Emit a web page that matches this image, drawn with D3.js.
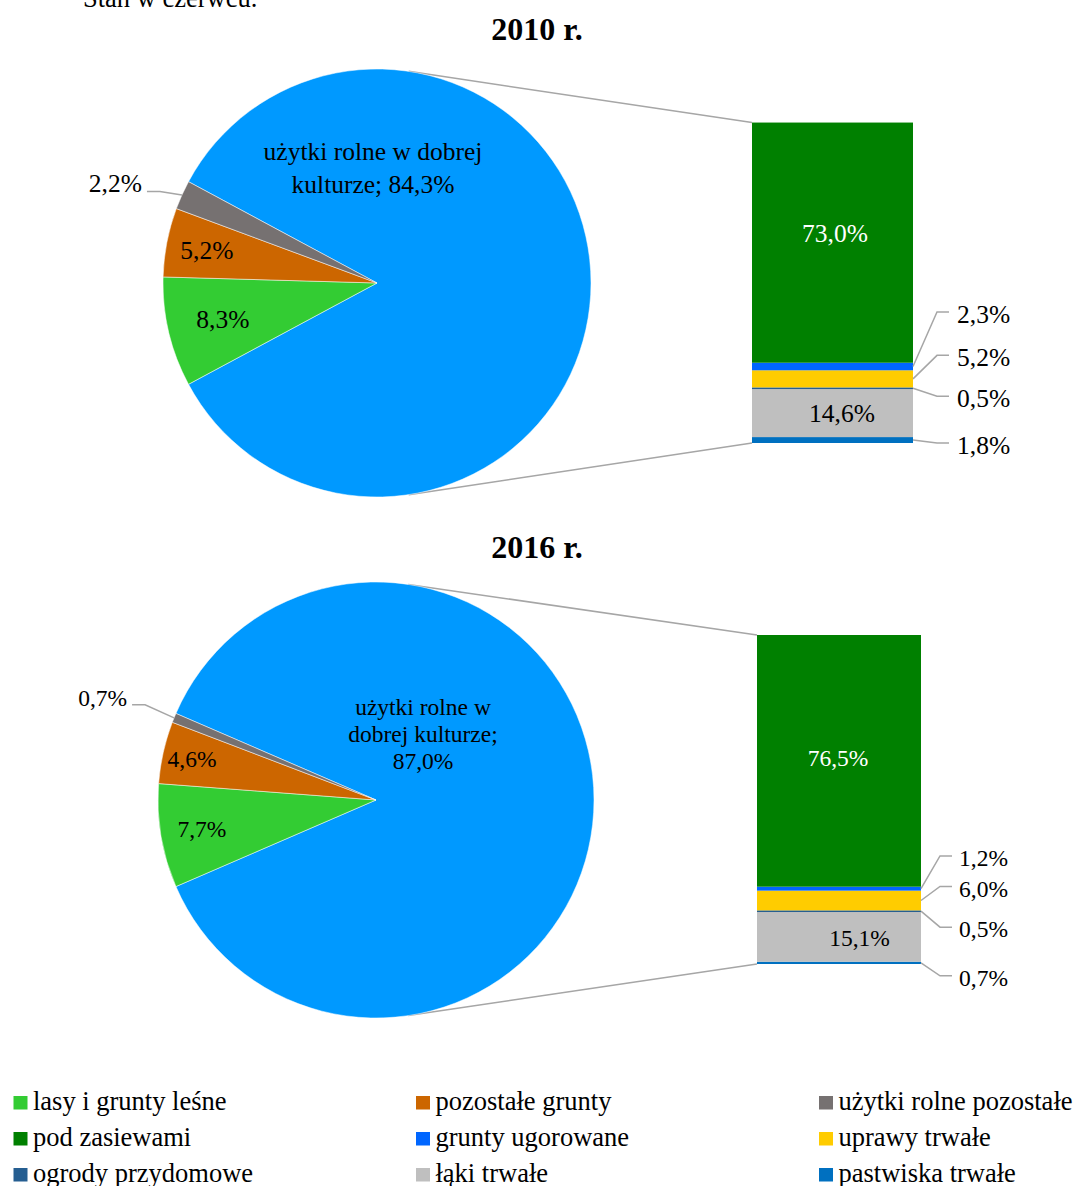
<html>
<head>
  <meta charset="utf-8">
  <script src="https://cdn.jsdelivr.net/npm/d3@7"></script>
  <style>
      body { margin: 0; background: #fff; }
      text { font-family: "Liberation Serif", "Times New Roman", serif; fill: #000; }
  </style>
</head>
<body>
<svg width="1073" height="1186" id="chart"></svg>
<script>
  // dane
  var years = ["2010 r.", "2016 r."];
  var pieCats = ["użytki rolne w dobrej kulturze", "lasy i grunty leśne", "pozostałe grunty", "użytki rolne pozostałe"];
  var pie2010 = [84.3, 8.3, 5.2, 2.2];
  var pie2016 = [87.0, 7.7, 4.6, 0.7];
  // od dołu słupka do góry
  var barCats = ["pastwiska trwałe", "łąki trwałe", "ogrody przydomowe", "uprawy trwałe", "grunty ugorowane", "pod zasiewami"];
  var bar2010 = [1.8, 14.6, 0.5, 5.2, 2.3, 73.0];
  var bar2016 = [0.7, 15.1, 0.5, 6.0, 1.2, 76.5];
  var legendCats = ["lasy i grunty leśne", "pozostałe grunty", "użytki rolne pozostałe",
                    "pod zasiewami", "grunty ugorowane", "uprawy trwałe",
                    "ogrody przydomowe", "łąki trwałe", "pastwiska trwałe"];

  var color = d3.scaleOrdinal()
    .domain(["użytki rolne w dobrej kulturze", "lasy i grunty leśne", "pozostałe grunty", "użytki rolne pozostałe",
             "pod zasiewami", "grunty ugorowane", "uprawy trwałe", "ogrody przydomowe", "łąki trwałe", "pastwiska trwałe"])
    .range(["#0099FF", "#33CC33", "#CC6600", "#767171", "#008000", "#0066FF", "#FFCC00", "#255E91", "#BFBFBF", "#0070C0"]);

  var fmt = function(v) { return v.toFixed(1).replace(".", ",") + "%"; };

  // układ (pozycje) dla obu wykresów
  var layouts = [
    { titleY: 40, cx: 377, cy: 283, r: 214, fs: 25.5,
      labelR: [0, 0.74, 0.81], blueDx: -4, blueDy: -123, blueLh: 32.5, wrap: [4, 2],
      grayElbow: [-22, -3.5], grayText: -18,
      barX: 752, barW: 161, barBottom: 443,
      inside: { "pod zasiewami": [2.5, -9.5], "łąki trwałe": [9.5, 0.5] },
      outsideDy: { "grunty ugorowane": -52.5, "uprawy trwałe": -21.5, "ogrody przydomowe": 10, "pastwiska trwałe": 5 },
      elbowDx: 24, lineEnd: 36, textDx: 44 },
    { titleY: 558, cx: 376, cy: 800, r: 218, fs: 23.5,
      labelR: [0, 0.81, 0.865], blueDx: 47, blueDy: -85, blueLh: 27, wrap: [3, 2, 1],
      grayElbow: [-29, -13], grayText: -18,
      barX: 757, barW: 164, barBottom: 964,
      inside: { "pod zasiewami": [-1, -3], "łąki trwałe": [20.5, 1] },
      outsideDy: { "grunty ugorowane": -30.7, "uprawy trwałe": -12, "ogrody przydomowe": 18, "pastwiska trwałe": 15 },
      elbowDx: 19, lineEnd: 31, textDx: 38 }
  ];
  var pies = [pie2010, pie2016];
  var bars = [bar2010, bar2016];

  var svg = d3.select("svg");

  svg.append("text").attr("x", 83).attr("y", 7).attr("font-size", 26.5).text("Stan w czerwcu.");

  var y = d3.scaleLinear().domain([0, 100]).range([0, 329]);
  var lineCol = "#A6A6A6";

  layouts.forEach(function(L, k) {
    var vals = pies[k];
    var blueFrac = vals[0] / d3.sum(vals);
    var start = Math.PI / 2 - blueFrac * Math.PI;

    svg.append("text").attr("x", 537).attr("y", L.titleY)
      .attr("text-anchor", "middle").attr("font-size", 32).attr("font-weight", "bold")
      .text(years[k]);

    // linie łączące koło ze słupkiem
    var conn = 8.5 * Math.PI / 180;
    var total = d3.sum(bars[k]);
    [[conn, L.barBottom - y(total)], [Math.PI - conn, L.barBottom]].forEach(function(c) {
      svg.append("line")
        .attr("x1", L.cx + L.r * Math.sin(c[0])).attr("y1", L.cy - L.r * Math.cos(c[0]))
        .attr("x2", L.barX).attr("y2", c[1])
        .attr("stroke", lineCol).attr("stroke-width", 1.5);
    });

    var pie = d3.pie().sort(null).startAngle(start).endAngle(start + 2 * Math.PI);
    var arcs = pie(vals);
    var arc = d3.arc().innerRadius(0).outerRadius(L.r);
    var g = svg.append("g").attr("transform", "translate(" + L.cx + "," + L.cy + ")");

    g.selectAll("path").data(arcs).enter().append("path")
      .attr("d", arc)
      .attr("fill", function(d, i) { return color(pieCats[i]); })
      .attr("stroke", "#fff").attr("stroke-width", 0.5);

    // etykieta dużego wycinka
    var words = (pieCats[0] + "; " + fmt(vals[0])).split(" ");
    var lines = [], p = 0;
    L.wrap.forEach(function(n) { lines.push(words.slice(p, p + n).join(" ")); p += n; });
    g.append("text").attr("text-anchor", "middle").attr("font-size", L.fs)
      .selectAll("tspan").data(lines).enter().append("tspan")
      .attr("x", L.blueDx).attr("y", function(d, i) { return L.blueDy + i * L.blueLh; })
      .text(function(d) { return d; });

    // etykiety wewnątrz małych wycinków
    arcs.slice(1, 3).forEach(function(a, j) {
      var rr = L.r * L.labelR[j + 1];
      var c = d3.arc().innerRadius(rr).outerRadius(rr).centroid(a);
      g.append("text").attr("x", c[0]).attr("y", c[1]).attr("dy", "0.35em")
        .attr("text-anchor", "middle").attr("font-size", L.fs).text(fmt(a.data));
    });

    // mały szary wycinek - etykieta na zewnątrz
    var ga = arcs[3];
    var e = d3.arc().innerRadius(L.r).outerRadius(L.r).centroid(ga);
    var ex = e[0] + L.grayElbow[0], ey = e[1] + L.grayElbow[1];
    g.append("polyline")
      .attr("points", [[e[0], e[1]], [ex, ey], [ex - 13, ey]].map(function(q) { return q.join(","); }).join(" "))
      .attr("fill", "none").attr("stroke", lineCol).attr("stroke-width", 1.5);
    g.append("text").attr("x", ex + L.grayText).attr("y", ey + 1)
      .attr("text-anchor", "end").attr("font-size", L.fs).text(fmt(ga.data));

    // słupek
    var bv = bars[k];
    var ends = d3.cumsum(bv);
    var segs = bv.map(function(v, i) {
      return { cat: barCats[i], v: v, y0: L.barBottom - y(ends[i] - v), y1: L.barBottom - y(ends[i]) };
    });
    var right = L.barX + L.barW;
    svg.append("g").selectAll("rect").data(segs).enter().append("rect")
      .attr("x", L.barX).attr("width", L.barW)
      .attr("y", function(d) { return d.y1; })
      .attr("height", function(d) { return d.y0 - d.y1; })
      .attr("fill", function(d) { return color(d.cat); });

    segs.forEach(function(s) {
      var mid = (s.y0 + s.y1) / 2;
      if (L.inside[s.cat]) {
        var o = L.inside[s.cat];
        svg.append("text").attr("x", L.barX + L.barW / 2 + o[0]).attr("y", mid + o[1]).attr("dy", "0.35em")
          .attr("text-anchor", "middle").attr("font-size", L.fs)
          .style("fill", s.cat === "pod zasiewami" ? "#fff" : "#000")
          .text(fmt(s.v));
      } else {
        var ly = mid + L.outsideDy[s.cat];
        svg.append("polyline")
          .attr("points", [[right, mid], [right + L.elbowDx, ly - 2], [right + L.lineEnd, ly - 2]]
            .map(function(q) { return q.join(","); }).join(" "))
          .attr("fill", "none").attr("stroke", lineCol).attr("stroke-width", 1.5);
        svg.append("text").attr("x", right + L.textDx).attr("y", ly).attr("dy", "0.35em")
          .attr("font-size", L.fs).text(fmt(s.v));
      }
    });
  });

  // legenda
  var colX = [13.5, 416, 819], rowY = [1096, 1132, 1168];
  var leg = svg.append("g").selectAll("g").data(legendCats).enter().append("g")
    .attr("transform", function(d, i) { return "translate(" + colX[i % 3] + "," + rowY[Math.floor(i / 3)] + ")"; });
  leg.append("rect").attr("width", 14).attr("height", 13.5).attr("fill", function(d) { return color(d); });
  leg.append("text").attr("x", 19.5).attr("y", 14).attr("font-size", 26.5).text(function(d) { return d; });
</script>
</body>
</html>
